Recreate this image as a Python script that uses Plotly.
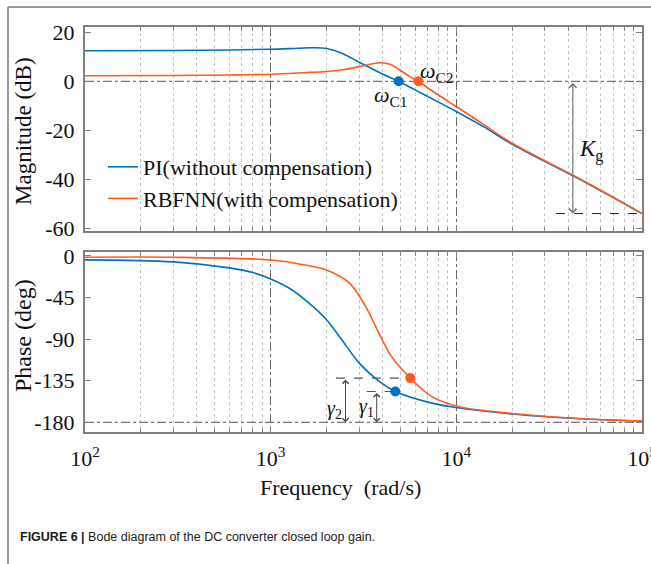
import math
import plotly.graph_objects as go

# ---------------- data ----------------
freq_mag_pi = [100, 300, 600, 1000, 1400, 1700, 2000, 2400, 3000, 4000, 4890, 6000, 8000, 10000, 14000, 20000, 50000, 100000]
mag_pi = [12.5, 12.6, 12.8, 13.1, 13.5, 13.7, 13.4, 11.6, 7.8, 3.0, 0.0, -3.5, -8.5, -12.3, -18.5, -25.7, -41.4, -54.0]

freq_mag_rb = [100, 300, 600, 1000, 1500, 2000, 2500, 3000, 3500, 3900, 4400, 5000, 5600, 6250, 7000, 8000, 10000, 14000, 20000, 50000, 100000]
mag_rb = [2.3, 2.4, 2.6, 2.9, 3.5, 4.0, 4.8, 6.0, 7.1, 7.6, 7.0, 4.4, 2.0, 0.0, -2.6, -5.6, -10.3, -17.6, -25.3, -41.2, -54.0]

freq_ph_pi = [100, 300, 600, 800, 1000, 1260, 1585, 2000, 2400, 3000, 3800, 4690, 7300, 10000, 20000, 50000, 100000]
ph_pi = [-4.3, -6.5, -13, -18, -25, -35, -50, -69, -90, -116, -135, -146.7, -159, -164, -171, -176.5, -178.5]

freq_ph_rb = [100, 300, 1000, 1400, 1980, 2640, 3250, 3815, 4480, 5650, 7350, 10250, 20000, 50000, 100000]
ph_rb = [-1.5, -1.5, -4.5, -8.5, -15, -29, -55, -83, -109, -132.2, -152, -163, -170.5, -176.5, -178.5]

# crossover markers
wc_mag_freq = [4890, 6250]
wc_mag_val = [0, 0]
wc_ph_freq = [4690, 5650]
wc_ph_val = [-146.7, -132.2]

# reference levels and helper lines
freq_span = [100, 100000]
mag_ref = 0
phase_ref = -180
kg_line_freq = [34400, 100000]
kg_level = -54
kg_arrow_freq = 42400
gamma2_line_freq = [2245, 5650]
gamma1_line_freq = [3290, 4690]
gamma2_arrow_freq = 2530
gamma1_arrow_freq = 3725

mag_ticks = [-60, -40, -20, 0, 20]
mag_tick_labels = ["-60", "-40", "-20", "0", "20"]
phase_ticks = [-180, -135, -90, -45, 0]
phase_tick_labels = ["-180", "-135", "-90", "-45", "0"]
decade_ticks = [100, 1000, 10000, 100000]
decade_labels = ["10<sup>2</sup>", "10<sup>3</sup>", "10<sup>4</sup>", "10<sup>5</sup>"]

series_names = ["PI(without compensation)", "RBFNN(with compensation)"]
caption = "<b>FIGURE 6 |</b> Bode diagram of the DC converter closed loop gain."

# ---------------- style ----------------
W, H = 651, 564
BLUE = "#0072BD"
ORANGE = "#FF5A1F"
SERIF = "Liberation Serif, Times New Roman, serif"
AXC = "#808080"

def px_x(p):
    return p / W

def px_y(p):
    return 1 - p / H

minor_vals = [m * 10 ** d for d in range(2, 5) for m in range(2, 10)]

fig = go.Figure()

# magnitude
fig.add_trace(go.Scatter(x=freq_mag_pi, y=mag_pi, mode="lines", line=dict(color=BLUE, width=1.6, shape="spline"),
                         name=series_names[0], xaxis="x", yaxis="y"))
fig.add_trace(go.Scatter(x=freq_mag_rb, y=mag_rb, mode="lines", line=dict(color=ORANGE, width=1.6, shape="spline"),
                         name=series_names[1], xaxis="x", yaxis="y"))
fig.add_trace(go.Scatter(x=freq_span, y=[mag_ref] * 2, mode="lines", line=dict(color="#555555", width=1, dash="dashdot"),
                         showlegend=False, hoverinfo="skip", xaxis="x", yaxis="y"))
fig.add_trace(go.Scatter(x=kg_line_freq, y=[kg_level] * 2, mode="lines", line=dict(color="#222222", width=1, dash="dash"),
                         showlegend=False, hoverinfo="skip", xaxis="x", yaxis="y"))
fig.add_trace(go.Scatter(x=[wc_mag_freq[0]], y=[wc_mag_val[0]], mode="markers", marker=dict(color=BLUE, size=10),
                         showlegend=False, xaxis="x", yaxis="y"))
fig.add_trace(go.Scatter(x=[wc_mag_freq[1]], y=[wc_mag_val[1]], mode="markers", marker=dict(color=ORANGE, size=10),
                         showlegend=False, xaxis="x", yaxis="y"))

# phase
fig.add_trace(go.Scatter(x=freq_span, y=[phase_ref] * 2, mode="lines", line=dict(color="#555555", width=1, dash="dashdot"),
                         showlegend=False, hoverinfo="skip", xaxis="x2", yaxis="y2"))
fig.add_trace(go.Scatter(x=gamma2_line_freq, y=[wc_ph_val[1]] * 2, mode="lines", line=dict(color="#555555", width=1.2, dash="dash"),
                         showlegend=False, hoverinfo="skip", xaxis="x2", yaxis="y2"))
fig.add_trace(go.Scatter(x=gamma1_line_freq, y=[wc_ph_val[0]] * 2, mode="lines", line=dict(color="#555555", width=1.2, dash="dash"),
                         showlegend=False, hoverinfo="skip", xaxis="x2", yaxis="y2"))
fig.add_trace(go.Scatter(x=freq_ph_pi, y=ph_pi, mode="lines", line=dict(color=BLUE, width=1.6, shape="spline"),
                         showlegend=False, xaxis="x2", yaxis="y2"))
fig.add_trace(go.Scatter(x=freq_ph_rb, y=ph_rb, mode="lines", line=dict(color=ORANGE, width=1.6, shape="spline"),
                         showlegend=False, xaxis="x2", yaxis="y2"))
fig.add_trace(go.Scatter(x=[wc_ph_freq[0]], y=[wc_ph_val[0]], mode="markers", marker=dict(color=BLUE, size=10),
                         showlegend=False, xaxis="x2", yaxis="y2"))
fig.add_trace(go.Scatter(x=[wc_ph_freq[1]], y=[wc_ph_val[1]], mode="markers", marker=dict(color=ORANGE, size=10),
                         showlegend=False, xaxis="x2", yaxis="y2"))

xdom = [px_x(85), px_x(642)]

def xaxis_cfg(anchor, labels):
    return dict(
        type="log", range=[2, 5], domain=xdom, anchor=anchor, automargin=False,
        showline=True, linecolor=AXC, linewidth=2, mirror="allticks",
        ticks="inside", ticklen=6, tickcolor=AXC, tickwidth=1,
        tickvals=decade_ticks, ticktext=decade_labels, showticklabels=labels,
        tickfont=dict(family=SERIF, size=22, color="#111111"), ticklabelstandoff=6,
        ticklabeloverflow="allow",
        showgrid=True, gridcolor="#666666", griddash="dashdot", gridwidth=1,
        minor=dict(tickvals=minor_vals, ticks="inside", ticklen=4, tickcolor=AXC,
                   showgrid=True, gridcolor="#c4c4c4", griddash="dot", gridwidth=1),
        zeroline=False,
    )

def yaxis_cfg(anchor, rng, dom, tv, tt):
    return dict(
        range=rng, domain=dom, anchor=anchor, automargin=False,
        showline=True, linecolor=AXC, linewidth=2, mirror="allticks",
        ticks="inside", ticklen=6, tickcolor=AXC, tickvals=tv, ticktext=tt,
        tickfont=dict(family=SERIF, size=22, color="#111111"), ticklabelstandoff=4,
        ticklabeloverflow="allow",
        showgrid=False, zeroline=False,
    )

ann = []
def txt(x, y, text, size, xref="paper", yref="paper", angle=0, xanchor="center", yanchor="middle", family=SERIF, color="#111111"):
    ann.append(dict(x=x, y=y, xref=xref, yref=yref, text=text, showarrow=False, textangle=angle,
                    xanchor=xanchor, yanchor=yanchor, font=dict(family=family, size=size, color=color)))

def arrow(xv, y0, y1, xref, yref, color, width):
    lx = math.log10(xv)
    ann.append(dict(x=lx, y=y1, ax=lx, ay=y0, xref=xref, yref=yref, axref=xref, ayref=yref, text="",
                    showarrow=True, arrowhead=4, startarrowhead=4, arrowside="end+start",
                    arrowsize=1.2, startarrowsize=1.2, arrowwidth=width, arrowcolor=color))

# axis titles
txt(px_x(23), px_y(131), "Magnitude (dB)", 23, angle=-90)
txt(px_x(23), px_y(336), "Phase (deg)", 24, angle=-90)
txt(px_x(340), px_y(487), "Frequency  (rad/s)", 22)

# curve annotations
txt(math.log10(4430), -6.2, "<i>ω</i><sub>C1</sub>", 22, xref="x", yref="y")
txt(math.log10(7900), 3.6, "<i>ω</i><sub>C2</sub>", 22, xref="x", yref="y")
txt(math.log10(53000), -28.3, "<i>K</i><sub>g</sub>", 23, xref="x", yref="y")
txt(math.log10(2200), -166, "<i>γ</i><sub>2</sub>", 20, xref="x2", yref="y2")
txt(math.log10(3300), -164, "<i>γ</i><sub>1</sub>", 20, xref="x2", yref="y2")

arrow(kg_arrow_freq, mag_ref, kg_level, "x", "y", "#777777", 1.2)
arrow(gamma2_arrow_freq, wc_ph_val[1], phase_ref, "x2", "y2", "#444444", 1)
arrow(gamma1_arrow_freq, wc_ph_val[0], phase_ref, "x2", "y2", "#444444", 1)

# caption
txt(px_x(18), px_y(537), caption, 12.5, xanchor="left",
    family="Liberation Sans, Arial, sans-serif", color="#1a1a1a")

fig.update_layout(
    width=W, height=H, autosize=False,
    margin=dict(l=0, r=0, t=0, b=0, autoexpand=False),
    paper_bgcolor="white", plot_bgcolor="white",
    xaxis=xaxis_cfg("y", False),
    yaxis=yaxis_cfg("x", [-61, 22.3], [px_y(230.7), px_y(26.7)], mag_ticks, mag_tick_labels),
    xaxis2=xaxis_cfg("y2", True),
    yaxis2=yaxis_cfg("x2", [-190.5, 4.5], [px_y(432), px_y(251.7)], phase_ticks, phase_tick_labels),
    legend=dict(x=px_x(103), y=px_y(146), xanchor="left", yanchor="top",
                bgcolor="rgba(255,255,255,0)", borderwidth=0,
                font=dict(family=SERIF, size=22, color="#111111"), tracegroupgap=0, itemwidth=30),
    annotations=ann,
    shapes=[
        dict(type="line", xref="paper", yref="paper", x0=px_x(8), x1=1, y0=px_y(7), y1=px_y(7),
             line=dict(color="#9a9a9a", width=2)),
        dict(type="line", xref="paper", yref="paper", x0=px_x(8), x1=px_x(8), y0=0, y1=px_y(7),
             line=dict(color="#9a9a9a", width=2)),
    ],
    showlegend=True,
)

fig.write_html("out.html")
